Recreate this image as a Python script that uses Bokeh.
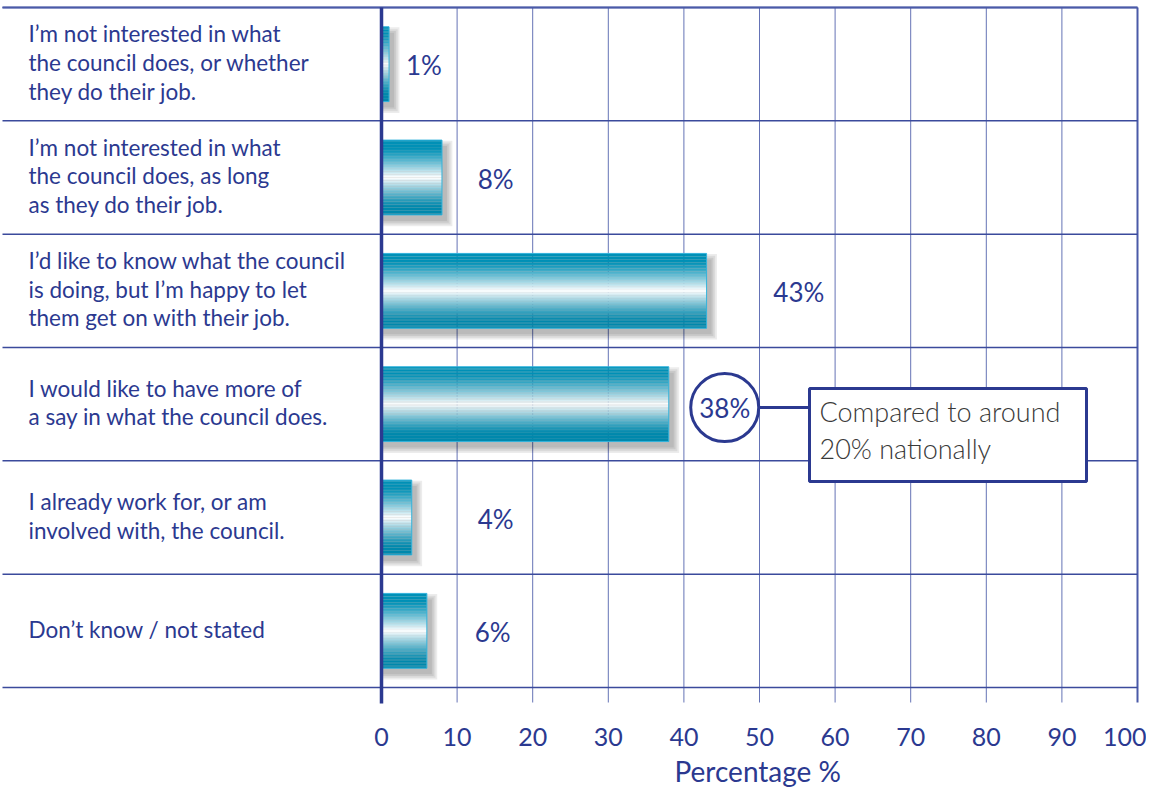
import numpy as np
from bokeh.plotting import figure
from bokeh.models import Range1d, ColumnDataSource, FixedTicker, Title
from bokeh.embed import file_html
from bokeh.resources import INLINE
from bokeh.core.properties import value

# ---------------- data ----------------
categories = [
    "I\u2019m not interested in what\nthe council does, or whether\nthey do their job.",
    "I\u2019m not interested in what\nthe council does, as long\nas they do their job.",
    "I\u2019d like to know what the council\nis doing, but I\u2019m happy to let\nthem get on with their job.",
    "I would like to have more of\na say in what the council does.",
    "I already work for, or am\ninvolved with, the council.",
    "Don\u2019t know / not stated",
]
percent = [1, 8, 43, 38, 4, 6]
value_labels = ["1%", "8%", "43%", "38%", "4%", "6%"]
tick_values = [0, 10, 20, 30, 40, 50, 60, 70, 80, 90, 100]
axis_title = "Percentage %"
note_text = "Compared to around\n20% nationally"
highlight_index = 3

# annotation positions (x, in axis units) for the value labels
label_x = [5.6, 15.1, 55.2, 45.4, 15.1, 14.7]

# ---------------- layout ----------------
W, H = 1146, 790
PXU = 7.56          # pixels per percent
X0 = 381            # canvas px of 0 %
ROW = 113.33        # pixels per row
TOP = 7             # canvas px of top rule
FRAME_H = 704
n = len(categories)

x_start = -X0 / PXU
x_end = (W - X0) / PXU
y_top = -TOP / ROW
y_bot = (FRAME_H - TOP) / ROW

DARK = "#2b3990"
GRID = "#6573b6"
TEAL = np.array([0, 144, 182])
WHITE = np.array([255, 255, 255])
FONT = "Lato"

p = figure(width=W, height=H, x_range=Range1d(x_start, x_end),
           y_range=Range1d(y_bot, y_top), output_backend="svg",
           toolbar_location=None, min_border_left=0, min_border_right=0,
           min_border_top=0, min_border_bottom=86)
p.yaxis.visible = False
p.xgrid.visible = False
p.ygrid.visible = False
p.outline_line_color = None
p.background_fill_color = "white"

y_ext = (710 - 15) / ROW   # grid extends slightly below the bottom rule

# vertical grid lines
gx = [t for t in tick_values if 0 < t < 100]
p.segment(x0=gx, y0=[0] * len(gx), x1=gx, y1=[y_ext] * len(gx),
          line_color=GRID, line_width=1)
# right border
p.segment(x0=[100], y0=[0], x1=[100], y1=[y_ext], line_color="#4a5aa8", line_width=2)

# horizontal rules
x_left = (10 - 389) / PXU
rows = list(range(n + 1))
p.segment(x0=[x_left] * len(rows), y0=rows, x1=[100] * len(rows), y1=rows,
          line_color="#3b4a9c", line_width=1.5)
p.segment(x0=[x_left], y0=[0], x1=[100], y1=[0], line_color="#4a5aa8", line_width=2)

# bars with shadows and vertical gradient
half = 0.33
centers = [i + 0.5 for i in range(n)]
dx, dy = 5 / PXU, 6 / ROW
for s in range(4):
    ex, ey = (s * 1.8) / PXU, (s * 1.8) / ROW
    p.quad(left=[0] * n, right=[v + dx + ex for v in percent],
           top=[c - half + dy - ey for c in centers],
           bottom=[c + half + dy + ey for c in centers],
           fill_color="#000000", fill_alpha=0.075, line_color=None)

N = 50
L, R, B, T, C = [], [], [], [], []
for v, c in zip(percent, centers):
    h = 2 * half / N
    for k in range(N):
        t = (k + 0.5) / N
        d = abs(2 * t - 1)
        w = max(0.0, 1 - d / 0.8) ** 1.25
        base = TEAL if t < 0.5 else np.array([0, 136, 172])
        col = (base * (1 - w) + WHITE * w).astype(int)
        L.append(0)
        R.append(v)
        B.append(c - half + k * h)
        T.append(c - half + (k + 1) * h + 0.001)
        C.append("#%02x%02x%02x" % tuple(col))
p.quad(left="left", right="right", bottom="bottom", top="top", fill_color="color",
       line_color=None, source=ColumnDataSource(dict(left=L, right=R, bottom=B, top=T, color=C)))
p.quad(left=[0] * n, right=percent, top=[c - half for c in centers],
       bottom=[c + half for c in centers], fill_color=None,
       line_color="#33b3dc", line_width=1)

# zero axis line
p.segment(x0=[0], y0=[0], x1=[0], y1=[(711 - 15) / ROW], line_color=DARK, line_width=3.5)

# category labels
p.text(x=[(36 - 389) / PXU] * n, y=[c - 0.015 for c in centers], text=categories,
       text_font=value(FONT), text_font_size="22.5px", text_color=DARK,
       text_align="left", text_baseline="middle", text_line_height=1.06)

# value labels
others = [i for i in range(n) if i != highlight_index]
p.text(x=[label_x[i] for i in others], y=[centers[i] + 0.01 for i in others],
       text=[value_labels[i] for i in others], text_font=value(FONT),
       text_font_size="26px", text_color=DARK, text_align="center",
       text_baseline="middle")

# highlighted value with circle and callout
hc = centers[highlight_index] + 0.03
hx = label_x[highlight_index]
box_left, box_right = (817 - 389) / PXU, (1094 - 389) / PXU
box_top, box_bot = (396 - 15) / ROW, (489 - 15) / ROW
p.segment(x0=[hx + 34 / PXU], y0=[hc], x1=[box_left], y1=[hc], line_color=DARK, line_width=3)
p.scatter(x=[hx], y=[hc], size=68, marker="circle", fill_color="white",
          line_color=DARK, line_width=3)
p.text(x=[hx], y=[hc], text=[value_labels[highlight_index]], text_font=value(FONT),
       text_font_size="26px", text_color=DARK, text_align="center", text_baseline="middle")
p.quad(left=[box_left], right=[box_right], top=[box_top], bottom=[box_bot],
       fill_color="white", line_color=DARK, line_width=3)
p.text(x=[(827 - 389) / PXU], y=[(box_top + box_bot) / 2 - 0.04], text=[note_text],
       text_font=value("'Lato Light', Lato"), text_font_size="27px", text_color="#3a3a3a",
       text_align="left", text_baseline="middle", text_line_height=1.12)

# x axis
ax = p.xaxis[0]
ax.ticker = FixedTicker(ticks=tick_values)
ax.axis_line_color = None
ax.major_tick_line_color = None
ax.minor_tick_line_color = None
ax.major_tick_in = 0
ax.major_tick_out = 0
ax.major_label_standoff = 23
ax.major_label_text_font = FONT
ax.major_label_text_font_size = "25px"
ax.major_label_text_color = DARK
ax.major_label_text_align = "right"

# axis title, placed under the 0-100 scale
p.add_layout(Title(text=axis_title, align="left", offset=674,
                   text_font=FONT, text_font_size="28px", text_font_style="normal",
                   text_color=DARK, standoff=6), "below")

open("out.html", "w").write(file_html(p, INLINE))
